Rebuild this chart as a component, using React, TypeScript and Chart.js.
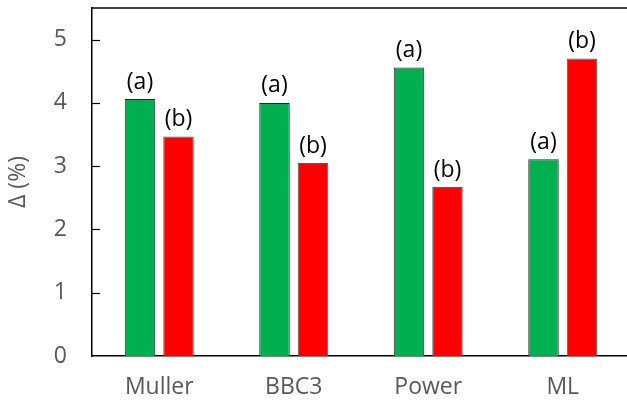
import React, { useEffect, useRef } from "react";
import { Chart, registerables } from "chart.js";

Chart.register(...registerables);

const categories = ["Muller", "BBC3", "Power", "ML"];
const seriesA = [4.06, 4.0, 4.56, 3.11];
const seriesB = [3.47, 3.05, 2.67, 4.7];
const labelsA = ["(a)", "(a)", "(a)", "(a)"];
const labelsB = ["(b)", "(b)", "(b)", "(b)"];
const yTicks = [1, 2, 3, 4, 5];

const FONT = "'Open Sans', sans-serif";

const framePlugin = {
  id: "frame",
  afterDatasetsDraw(chart: any) {
    const { ctx, chartArea } = chart;
    const y = chart.scales.y;
    ctx.save();
    ctx.strokeStyle = "#000";
    ctx.lineWidth = 1.5;
    ctx.beginPath();
    ctx.moveTo(chartArea.left, chartArea.top);
    ctx.lineTo(chartArea.right + 5, chartArea.top);
    ctx.stroke();
    ctx.lineWidth = 1.2;
    yTicks.forEach((v) => {
      const py = Math.round(y.getPixelForValue(v)) + 0.5;
      ctx.beginPath();
      ctx.moveTo(chartArea.left, py);
      ctx.lineTo(chartArea.left + 8, py);
      ctx.stroke();
    });
    ctx.fillStyle = "#000";
    ctx.font = `23px ${FONT}`;
    ctx.textAlign = "center";
    ctx.textBaseline = "middle";
    const sets = [labelsA, labelsB];
    chart.data.datasets.forEach((_: any, di: number) => {
      const meta = chart.getDatasetMeta(di);
      meta.data.forEach((bar: any, i: number) => {
        ctx.fillText(sets[di][i], bar.x, bar.y - 17);
      });
    });
    ctx.restore();
  },
};

export default function App() {
  const ref = useRef<HTMLCanvasElement | null>(null);
  useEffect(() => {
    document.body.style.overflow = "hidden";
    if (!ref.current) return;
    const chart = new Chart(ref.current, {
      type: "bar",
      data: {
        labels: categories,
        datasets: [
          {
            data: seriesA,
            backgroundColor: "#00B050",
            borderColor: "#2a2a2a",
            borderWidth: 1,
            categoryPercentage: 0.5725,
            barPercentage: 0.792,
          },
          {
            data: seriesB,
            backgroundColor: "#FF0000",
            borderColor: "#5a5a5a",
            borderWidth: 1,
            categoryPercentage: 0.5725,
            barPercentage: 0.792,
          },
        ],
      },
      options: {
        responsive: false,
        animation: false,
        devicePixelRatio: 1,
        layout: { padding: { top: 8, right: 0, left: 0, bottom: 0 } },
        plugins: { legend: { display: false }, tooltip: { enabled: false } },
        scales: {
          x: {
            grid: { display: false, drawTicks: false },
            border: { display: true, color: "#000", width: 1.5 },
            ticks: {
              color: "#595959",
              font: { family: FONT, size: 23 },
              padding: 18,
            },
            afterFit(scale: any) {
              scale.height = 44;
              scale.paddingLeft = 0;
              scale.paddingRight = 0;
            },
          },
          y: {
            min: 0,
            max: 5.5,
            grid: { display: false, drawTicks: false },
            border: { display: true, color: "#000", width: 1.5 },
            ticks: {
              stepSize: 1,
              color: "#595959",
              font: { family: FONT, size: 23 },
              padding: 25,
              callback: (v: any) => (Number.isInteger(v) ? String(v) : ""),
            },
            title: {
              display: true,
              text: "Δ (%)",
              color: "#595959",
              font: { family: FONT, size: 23 },
              padding: { top: 5, bottom: 0 },
            },
            afterFit(scale: any) {
              scale.width = 92;
              scale.paddingTop = 0;
              scale.paddingBottom = 0;
            },
          },
        },
      },
      plugins: [framePlugin],
    });
    return () => chart.destroy();
  }, []);
  return (
    <div style={{ position: "fixed", left: 0, top: 0, width: 630, height: 400, background: "#fff" }}>
      <canvas ref={ref} width={630} height={400} />
    </div>
  );
}
